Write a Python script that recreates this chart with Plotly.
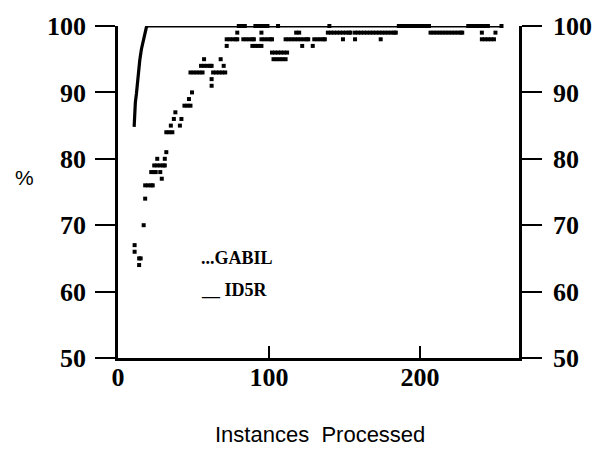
import plotly.graph_objects as go

# ---- data ----
id5r_x = [10.7, 11.0, 11.5, 12.2, 13.0, 14.4, 15.5, 16.6, 17.8, 18.8, 19.5, 60, 120, 180, 255]
id5r_y = [84.8, 87.0, 88.5, 89.8, 92.0, 94.8, 96.5, 97.8, 99.0, 99.8, 100, 100, 100, 100, 100]

gabil_x = [
    11, 11, 14, 15, 14, 17, 18,
    18, 20, 22, 23,
    29,
    22, 24, 25, 28,
    24, 26, 28, 30, 31,
    26, 31,
    32,
    32, 34, 36,
    35, 41,
    37, 42,
    38,
    44, 46, 48,
    47,
    49,
    62,
    62,
    48, 50, 52, 54, 56,
    63, 65, 67, 69, 71,
    55, 57, 59, 61, 62,
    70,
    57, 68,
    72,
    72, 74, 76, 78, 79,
    79,
    80, 82, 84,
    83, 85, 87, 89, 90,
    89, 91, 93, 95,
    95,
    91, 93, 95, 97, 99,
    95, 97, 99, 101, 102,
    102, 104, 106, 108, 110, 112,
    103, 105, 107, 109, 111,
    106,
    111, 113, 115, 117, 119, 121, 123, 125, 126,
    118, 120,
    122, 129,
    130, 132, 134, 136, 137,
    140,
    139, 141, 143, 145, 147, 149, 151, 153, 154,
    149, 157,
    157, 159, 161, 163, 165, 167, 169, 171, 173, 175, 177, 179, 181, 183, 184,
    174,
    186, 188, 190, 192, 194, 196, 198, 200, 202, 204, 206,
    207, 209, 211, 213, 215, 217, 219, 221, 223, 225, 227, 228,
    232, 234, 236, 238, 240, 242, 244, 245,
    241, 250,
    241, 243, 245, 247, 249,
    254,
]
gabil_y = [
    67, 66, 65, 65, 64, 70, 74,
    76, 76, 76, 76,
    77,
    78, 78, 78, 78,
    79, 79, 79, 79, 79,
    80, 80,
    81,
    84, 84, 84,
    85, 85,
    86, 86,
    87,
    88, 88, 88,
    89,
    90,
    91,
    92,
    93, 93, 93, 93, 93,
    93, 93, 93, 93, 93,
    94, 94, 94, 94, 94,
    94,
    95, 95,
    97,
    98, 98, 98, 98, 98,
    99,
    100, 100, 100,
    98, 98, 98, 98, 98,
    97, 97, 97, 97,
    99,
    100, 100, 100, 100, 100,
    98, 98, 98, 98, 98,
    96, 96, 96, 96, 96, 96,
    95, 95, 95, 95, 95,
    100,
    98, 98, 98, 98, 98, 98, 98, 98, 98,
    99, 99,
    97, 97,
    98, 98, 98, 98, 98,
    100,
    99, 99, 99, 99, 99, 99, 99, 99, 99,
    98, 98,
    99, 99, 99, 99, 99, 99, 99, 99, 99, 99, 99, 99, 99, 99, 99,
    98,
    100, 100, 100, 100, 100, 100, 100, 100, 100, 100, 100,
    99, 99, 99, 99, 99, 99, 99, 99, 99, 99, 99, 99,
    100, 100, 100, 100, 100, 100, 100, 100,
    99, 99,
    98, 98, 98, 98, 98,
    100,
]

x_ticks = [0, 100, 200]
y_ticks = [50, 60, 70, 80, 90, 100]
x_range = [0, 265.6]
y_range = [50, 100]

SERIF = "Liberation Serif"
SANS = "Liberation Sans"

fig = go.Figure()
fig.add_trace(go.Scatter(
    x=id5r_x, y=id5r_y, mode="lines", name="ID5R",
    line=dict(color="black", width=3.2), cliponaxis=False, showlegend=False,
))
fig.add_trace(go.Scatter(
    x=gabil_x, y=gabil_y, mode="markers", name="GABIL",
    marker=dict(symbol="square", size=4, color="black", line=dict(width=0)),
    cliponaxis=False, showlegend=False,
))
# invisible trace for right axis
fig.add_trace(go.Scatter(x=[x_range[0]], y=[y_range[0]], yaxis="y2", mode="markers",
                         marker=dict(opacity=0), showlegend=False, hoverinfo="skip"))

tickfont = dict(family=SERIF, size=26, color="black", weight="bold")

fig.update_layout(
    width=604, height=450, autosize=False,
    margin=dict(l=118, r=81, t=25, b=92, pad=0),
    paper_bgcolor="white", plot_bgcolor="white",
    showlegend=False,
    xaxis=dict(
        range=x_range, tickvals=x_ticks, ticktext=[str(v) for v in x_ticks],
        showline=True, linecolor="black", linewidth=2.6,
        ticks="inside", ticklen=12, tickwidth=2.4, tickcolor="black",
        showgrid=False, zeroline=False, tickfont=tickfont,
        ticklabelstandoff=-6,
    ),
    yaxis=dict(
        range=y_range, tickvals=y_ticks,
        showline=True, linecolor="black", linewidth=2.6,
        ticks="outside", ticklen=20, tickwidth=2.4, tickcolor="black",
        showgrid=False, zeroline=False, tickfont=tickfont,
        ticklabelstandoff=4,
    ),
    yaxis2=dict(
        range=y_range, tickvals=y_ticks, overlaying="y", side="right",
        showline=True, linecolor="black", linewidth=2.6,
        ticks="outside", ticklen=20, tickwidth=2.4, tickcolor="black",
        showgrid=False, zeroline=False, tickfont=tickfont,
        ticklabelstandoff=6,
    ),
    annotations=[
        dict(text="%", x=-0.232, y=0.5435, xref="paper", yref="paper",
             showarrow=False, xanchor="center", yanchor="middle",
             font=dict(family=SANS, size=21, color="black")),
        dict(text="Instances\u00a0 Processed", x=0.5037, y=-0.2312, xref="paper", yref="paper",
             showarrow=False, xanchor="center", yanchor="middle",
             font=dict(family=SANS, size=22, color="black")),
        dict(text="...GABIL", x=0.2025, y=0.30, xref="paper", yref="paper",
             showarrow=False, xanchor="left", yanchor="middle",
             font=dict(family=SERIF, size=18, color="black", weight="bold")),
        dict(text="__ ID5R", x=0.2025, y=0.205, xref="paper", yref="paper",
             showarrow=False, xanchor="left", yanchor="middle",
             font=dict(family=SERIF, size=18, color="black", weight="bold")),
    ],
)

fig.write_html("out.html")
